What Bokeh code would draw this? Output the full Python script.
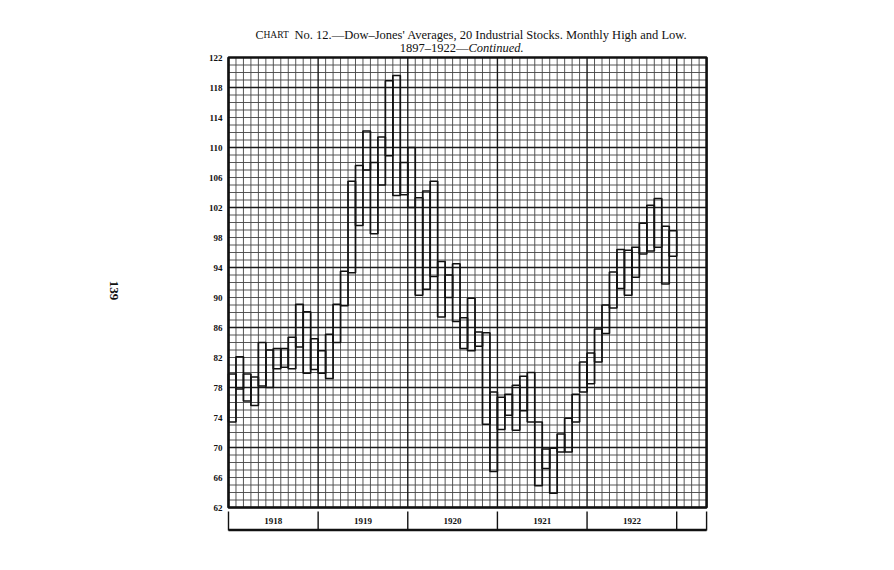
import math
from bokeh.plotting import figure
from bokeh.models import Range1d
from bokeh.embed import file_html
from bokeh.resources import INLINE
from bokeh.core.properties import value

# ---------------- data (Dow-Jones 20 industrials, monthly high / low) ----------------
years = ["1918", "1919", "1920", "1921", "1922"]

high_1918 = [79.8, 82.1, 79.8, 79.4, 84.0, 83.0, 83.2, 83.2, 84.7, 89.1, 88.1, 84.5]
low_1918 = [73.4, 77.8, 76.2, 75.6, 78.2, 78.0, 80.5, 80.7, 80.5, 83.4, 79.9, 80.4]

high_1919 = [82.9, 85.1, 89.1, 93.5, 105.5, 107.6, 112.2, 108.0, 111.4, 118.9, 119.6, 108.0]
low_1919 = [79.9, 79.2, 84.0, 88.9, 93.3, 99.6, 107.0, 98.5, 105.0, 108.9, 103.6, 103.7]

high_1920 = [110.0, 103.3, 104.2, 105.5, 94.8, 93.0, 94.5, 87.3, 89.9, 85.4, 85.3, 77.4]
low_1920 = [102.0, 90.3, 91.1, 92.8, 87.4, 90.0, 86.8, 83.2, 82.9, 83.5, 73.1, 66.8]

high_1921 = [76.7, 77.1, 78.3, 79.5, 80.0, 73.4, 69.8, 69.9, 71.8, 73.9, 77.1, 81.4]
low_1921 = [72.4, 74.3, 72.3, 74.9, 73.4, 64.9, 67.2, 63.9, 69.4, 69.4, 73.4, 77.4]

high_1922 = [82.6, 85.8, 89.0, 93.4, 96.4, 96.3, 96.7, 99.9, 102.3, 103.2, 99.5, 98.9]
low_1922 = [78.5, 81.4, 85.2, 88.6, 91.2, 90.3, 92.7, 95.8, 96.2, 96.7, 91.8, 95.5]

y_ticks = list(range(62, 123, 4))
y_tick_labels = [str(t) for t in y_ticks]

highs = high_1918 + high_1919 + high_1920 + high_1921 + high_1922
lows = low_1918 + low_1919 + low_1920 + low_1921 + low_1922
month_left = list(range(len(highs)))
month_right = [m + 1 for m in month_left]

# ---------------- layout constants ----------------
PX_M = 7.47       # pixels per month
PX_U = 7.5        # pixels per index point
W, H = 886, 560
X0PX, Y1PX = 228, 57   # page position of the sheet's top-left corner
N_COLS = 64            # columns on the ruled sheet
Y0, Y1 = 62, 122


def px_x(px):
    return (px - X0PX) / PX_M


def px_y(py):
    return Y1 - (py - Y1PX) / PX_U


p = figure(width=W, height=H, x_range=Range1d(px_x(0), px_x(W)), y_range=Range1d(px_y(H), px_y(0)),
           output_backend="svg", toolbar_location=None, x_axis_location=None, y_axis_location=None,
           min_border_left=0, min_border_right=0, min_border_top=0, min_border_bottom=0)
p.xgrid.visible = False
p.ygrid.visible = False
p.outline_line_color = None
p.background_fill_color = "white"
p.border_fill_color = "white"

tf = value("Liberation Serif")
INK = "#111111"

# ---------------- ruled grid ----------------
minor_x = [c for c in range(N_COLS + 1) if c % 12 != 0]
major_x = [c for c in range(N_COLS + 1) if c % 12 == 0]
minor_y = [v for v in range(Y0, Y1 + 1) if (v - Y0) % 8 != 0]
major_y = [v for v in range(Y0, Y1 + 1) if (v - Y0) % 8 == 0]

p.segment(x0=minor_x, x1=minor_x, y0=[Y0] * len(minor_x), y1=[Y1] * len(minor_x),
          line_color="#444444", line_width=0.9)
p.segment(x0=[0] * len(minor_y), x1=[N_COLS] * len(minor_y), y0=minor_y, y1=minor_y,
          line_color="#444444", line_width=0.9)
p.segment(x0=major_x, x1=major_x, y0=[Y0] * len(major_x), y1=[Y1] * len(major_x),
          line_color="#1a1a1a", line_width=1.4)
p.segment(x0=[0] * len(major_y), x1=[N_COLS] * len(major_y), y0=major_y, y1=major_y,
          line_color="#1a1a1a", line_width=1.4)

# frame
p.quad(left=[0], right=[N_COLS], bottom=[Y0], top=[Y1], fill_color=None,
       line_color=INK, line_width=2.6)

# y tick labels
p.text(x=[px_x(222)] * len(y_ticks), y=y_ticks, text=y_tick_labels, text_font=tf,
       text_font_style="bold", text_font_size="9px", text_align="right",
       text_baseline="middle", text_color=INK)

# ---------------- monthly high/low boxes ----------------
p.quad(left=month_left, right=month_right, bottom=lows, top=highs, fill_color=None,
       line_color=INK, line_width=1.7)

# ---------------- year band ----------------
div_x = [0, 12, 24, 36, 48, 60, N_COLS]
p.segment(x0=div_x, x1=div_x, y0=[px_y(511)] * len(div_x), y1=[px_y(530)] * len(div_x),
          line_color=INK, line_width=1.4)
p.segment(x0=[0], x1=[N_COLS], y0=[px_y(529.5)], y1=[px_y(529.5)], line_color=INK, line_width=2.4)
p.text(x=[6 + 12 * i for i in range(len(years))], y=[px_y(520)] * len(years), text=years,
       text_font=tf, text_font_style="bold", text_font_size="9px",
       text_align="center", text_baseline="middle", text_color=INK)

# ---------------- title ----------------
p.text(x=[px_x(255)], y=[px_y(34)], text=["C"], text_font=tf, text_font_size="12px",
       text_align="left", text_baseline="middle", text_color=INK)
p.text(x=[px_x(263)], y=[px_y(34.6)], text=["HART"], text_font=tf, text_font_size="9.5px",
       text_align="left", text_baseline="middle", text_color=INK)
p.text(x=[px_x(294)], y=[px_y(34)],
       text=["No. 12.\u2014Dow\u2013Jones' Averages, 20 Industrial Stocks.   Monthly High and Low."],
       text_font=tf, text_font_size="12.5px", text_align="left", text_baseline="middle",
       text_color=INK)
p.text(x=[px_x(468)], y=[px_y(47)], text=["1897\u20131922\u2014"], text_font=tf,
       text_font_size="12.5px", text_align="right", text_baseline="middle", text_color=INK)
p.text(x=[px_x(468)], y=[px_y(47)], text=["Continued."], text_font=tf, text_font_style="italic",
       text_font_size="12.5px", text_align="left", text_baseline="middle", text_color=INK)

# page number
p.text(x=[px_x(113)], y=[px_y(290)], text=["139"], angle=-math.pi / 2, text_font=tf,
       text_font_style="bold", text_font_size="13px", text_align="center",
       text_baseline="middle", text_color=INK)

open("out.html", "w").write(file_html(p, INLINE))
